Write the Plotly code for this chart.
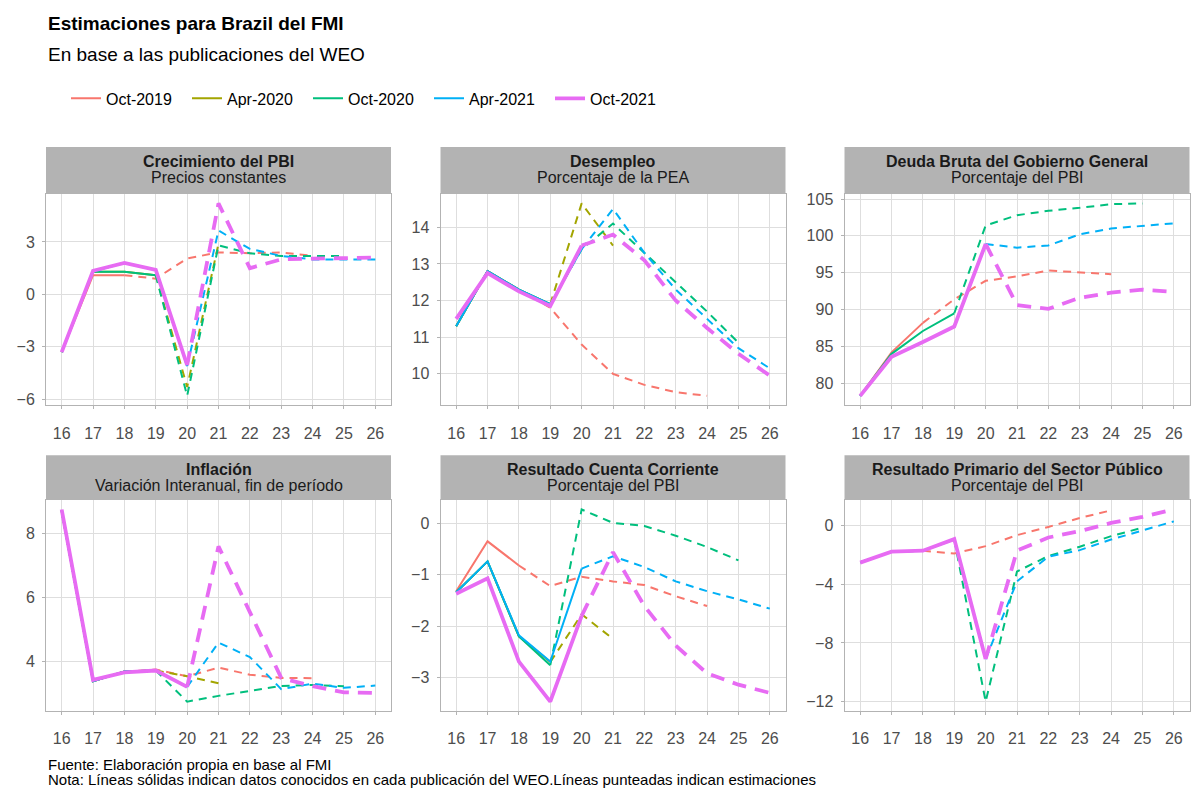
import plotly.graph_objects as go

# ---------------- data ----------------
years = [16, 17, 18, 19, 20, 21, 22, 23, 24, 25, 26]
tick_labels = ["16", "17", "18", "19", "20", "21", "22", "23", "24", "25", "26"]

vintages = ["Oct-2019", "Apr-2020", "Oct-2020", "Apr-2021", "Oct-2021"]
colors = ["#F8766D", "#A3A500", "#00BF7D", "#00B0F6", "#E76BF3"]
last_actual = [18, 19, 19, 20, 20]   # last year with known data in each WEO

# Crecimiento del PBI
gdp_oct19 = [-3.3, 1.1, 1.1, 0.9, 2.05, 2.4, 2.35, 2.4, 2.2, None, None]
gdp_apr20 = [-3.3, 1.3, 1.3, 1.1, -5.3, 2.9, None, None, None, None, None]
gdp_oct20 = [-3.3, 1.3, 1.3, 1.1, -5.8, 2.8, 2.35, 2.2, 2.2, 2.2, None]
gdp_apr21 = [-3.3, 1.3, 1.8, 1.4, -4.1, 3.65, 2.6, 2.2, 2.0, 2.0, 2.0]
gdp_oct21 = [-3.3, 1.35, 1.8, 1.4, -4.05, 5.2, 1.5, 2.0, 2.05, 2.1, 2.1]

# Desempleo
une_oct19 = [11.3, 12.8, 12.3, 11.8, 10.8, 10.0, 9.7, 9.5, 9.4, None, None]
une_apr20 = [11.3, 12.8, 12.3, 11.9, 14.65, 13.5, None, None, None, None, None]
une_oct20 = [11.3, 12.8, 12.3, 11.9, 13.4, 14.1, 13.3, 12.5, 11.7, 10.85, None]
une_apr21 = [11.3, 12.8, 12.3, 11.9, 13.4, 14.5, 13.3, 12.3, 11.5, 10.7, 10.15]
une_oct21 = [11.5, 12.75, 12.25, 11.85, 13.5, 13.8, 13.1, 12.0, 11.25, 10.55, 9.95]

# Deuda Bruta del Gobierno General
debt_oct19 = [78.3, 84.2, 88.2, 91.4, 93.9, 94.5, 95.3, 95.0, 94.8, None, None]
debt_apr20 = [None] * 11
debt_oct20 = [78.3, 84.0, 87.1, 89.5, 101.4, 102.8, 103.4, 103.8, 104.3, 104.4, None]
debt_apr21 = [78.3, 83.6, 85.6, 87.7, 98.9, 98.4, 98.7, 100.2, 101.0, 101.4, 101.7]
debt_oct21 = [78.3, 83.6, 85.6, 87.7, 98.9, 90.6, 90.1, 91.6, 92.3, 92.7, 92.4]

# Inflacion
inf_oct19 = [8.7, 3.4, 3.7, 3.76, 3.55, 3.82, 3.6, 3.5, 3.49, None, None]
inf_apr20 = [8.7, 3.4, 3.7, 3.73, 3.55, 3.33, None, None, None, None, None]
inf_oct20 = [8.7, 3.4, 3.7, 3.73, 2.76, 2.94, 3.1, 3.25, 3.28, 3.24, None]
inf_apr21 = [8.7, 3.4, 3.7, 3.73, 3.22, 4.6, 4.15, 3.15, 3.32, 3.19, 3.26]
inf_oct21 = [8.75, 3.44, 3.67, 3.73, 3.22, 7.6, 5.55, 3.5, 3.24, 3.05, 3.03]

# Resultado Cuenta Corriente
ca_oct19 = [-1.32, -0.35, -0.82, -1.22, -1.04, -1.13, -1.2, -1.42, -1.61, None, None]
ca_apr20 = [-1.34, -0.74, -2.2, -2.7, -1.77, -2.25, None, None, None, None, None]
ca_oct20 = [-1.34, -0.74, -2.2, -2.76, 0.27, 0.01, -0.05, -0.24, -0.46, -0.72, None]
ca_apr21 = [-1.34, -0.74, -2.18, -2.69, -0.88, -0.64, -0.85, -1.13, -1.32, -1.48, -1.66]
ca_oct21 = [-1.37, -1.07, -2.69, -3.47, -1.8, -0.56, -1.61, -2.38, -2.92, -3.14, -3.3]

# Resultado Primario del Sector Publico
pb_oct19 = [-2.5, -1.78, -1.71, -1.9, -1.4, -0.65, -0.09, 0.52, 1.04, None, None]
pb_apr20 = [None] * 11
pb_oct20 = [-2.5, -1.78, -1.71, -0.95, -12.0, -3.13, -2.07, -1.44, -0.72, -0.14, None]
pb_apr21 = [-2.5, -1.78, -1.71, -0.92, -9.1, -3.8, -2.12, -1.67, -0.95, -0.32, 0.29]
pb_oct21 = [-2.52, -1.78, -1.71, -0.92, -9.1, -1.7, -0.81, -0.38, 0.18, 0.59, 1.1]

panel_titles = ["Crecimiento del PBI", "Desempleo", "Deuda Bruta del Gobierno General",
                "Inflación", "Resultado Cuenta Corriente", "Resultado Primario del Sector Público"]
panel_subtitles = ["Precios constantes", "Porcentaje de la PEA", "Porcentaje del PBI",
                   "Variación Interanual, fin de período", "Porcentaje del PBI", "Porcentaje del PBI"]
panel_yticks = [[-6, -3, 0, 3], [10, 11, 12, 13, 14], [80, 85, 90, 95, 100, 105],
                [4, 6, 8], [-3, -2, -1, 0], [-12, -8, -4, 0]]

panel_series = [
    [gdp_oct19, gdp_apr20, gdp_oct20, gdp_apr21, gdp_oct21],
    [une_oct19, une_apr20, une_oct20, une_apr21, une_oct21],
    [debt_oct19, debt_apr20, debt_oct20, debt_apr21, debt_oct21],
    [inf_oct19, inf_apr20, inf_oct20, inf_apr21, inf_oct21],
    [ca_oct19, ca_apr20, ca_oct20, ca_apr21, ca_oct21],
    [pb_oct19, pb_apr20, pb_oct20, pb_apr21, pb_oct21],
]

# ---------------- layout geometry (pixels) ----------------
W, H = 1200, 800
col_px = [(46, 391), (440.5, 785.5), (844.5, 1189.5)]
row_px = [(192, 405), (500, 712.7)]       # plot area top/bottom
strip_px = [(145, 192), (455, 500)]       # strip top/bottom

FONT = "Liberation Sans, Arial, sans-serif"
GREY_TXT = "#4D4D4D"

def px_x(x):
    return x / W

def px_y(y):
    return 1 - y / H

fig = go.Figure()
shapes = []
annotations = []

for p in range(6):
    r, c = divmod(p, 3)
    ax_id = "" if p == 0 else str(p + 1)
    xa, ya = "x" + ax_id, "y" + ax_id
    series = panel_series[p]

    allv = [v for s in series for v in s if v is not None]
    lo, hi = min(allv), max(allv)
    span = hi - lo
    yrange = [lo - 0.05 * span, hi + 0.05 * span]

    for i, s in enumerate(series):
        if all(v is None for v in s):
            continue
        width = 3.8 if i == 4 else 2.0
        dash = "14px,9px" if i == 4 else "8px,6px"
        la = last_actual[i]
        xs_a = [yr for yr, v in zip(years, s) if v is not None and yr <= la]
        ys_a = [v for yr, v in zip(years, s) if v is not None and yr <= la]
        xs_e = [yr for yr, v in zip(years, s) if v is not None and yr >= la]
        ys_e = [v for yr, v in zip(years, s) if v is not None and yr >= la]
        fig.add_trace(go.Scatter(
            x=xs_a, y=ys_a, mode="lines", xaxis=xa, yaxis=ya,
            line=dict(color=colors[i], width=width),
            name=vintages[i], legendgroup=vintages[i], showlegend=(p == 0),
            hoverinfo="skip"))
        fig.add_trace(go.Scatter(
            x=xs_e, y=ys_e, mode="lines", xaxis=xa, yaxis=ya,
            line=dict(color=colors[i], width=width, dash=dash),
            name=vintages[i], legendgroup=vintages[i], showlegend=False,
            hoverinfo="skip"))

    x0, x1 = col_px[c]
    y0, y1 = row_px[r]
    common = dict(showgrid=True, gridcolor="#DEDEDE", gridwidth=1, zeroline=False,
                  showline=True, mirror=True, linecolor="#B3B3B3", linewidth=1,
                  ticks="outside", ticklen=3, tickcolor="#B3B3B3",
                  tickfont=dict(family=FONT, size=16, color=GREY_TXT))
    fig.layout["xaxis" + ax_id] = dict(
        domain=[px_x(x0), px_x(x1)], anchor=ya, range=[15.5, 26.5],
        tickvals=years, ticktext=tick_labels, ticklabelstandoff=10, **common)
    fig.layout["yaxis" + ax_id] = dict(
        domain=[px_y(y1), px_y(y0)], anchor=xa, range=yrange,
        tickvals=panel_yticks[p], ticklabelstandoff=4, **common)

    st0, st1 = strip_px[r]
    shapes.append(dict(type="rect", xref="paper", yref="paper",
                       x0=px_x(x0), x1=px_x(x1), y0=px_y(st1), y1=px_y(st0),
                       fillcolor="#B3B3B3", line=dict(width=0), layer="above"))
    cx = px_x((x0 + x1) / 2)
    annotations.append(dict(text="<b>" + panel_titles[p] + "</b>", xref="paper", yref="paper",
                            x=cx, y=px_y(st0 + 14.5), xanchor="center", yanchor="middle",
                            showarrow=False, font=dict(family=FONT, size=16, color="#1A1A1A")))
    annotations.append(dict(text=panel_subtitles[p], xref="paper", yref="paper",
                            x=cx, y=px_y(st0 + 30.5), xanchor="center", yanchor="middle",
                            showarrow=False, font=dict(family=FONT, size=16, color="#1A1A1A")))

# titles and footer
annotations.append(dict(text="<b>Estimaciones para Brazil del FMI</b>", xref="paper", yref="paper",
                        x=px_x(46), y=px_y(21), xanchor="left", yanchor="middle", showarrow=False,
                        font=dict(family=FONT, size=19, color="#000000")))
annotations.append(dict(text="En base a las publicaciones del WEO", xref="paper", yref="paper",
                        x=px_x(46), y=px_y(52), xanchor="left", yanchor="middle", showarrow=False,
                        font=dict(family=FONT, size=19, color="#000000")))
annotations.append(dict(text="Fuente: Elaboración propia en base al FMI", xref="paper", yref="paper",
                        x=px_x(46), y=px_y(766), xanchor="left", yanchor="middle", showarrow=False,
                        font=dict(family=FONT, size=15, color="#000000")))
annotations.append(dict(text="Nota: Líneas sólidas indican datos conocidos en cada publicación del WEO.Líneas punteadas indican estimaciones",
                        xref="paper", yref="paper",
                        x=px_x(46), y=px_y(781), xanchor="left", yanchor="middle", showarrow=False,
                        font=dict(family=FONT, size=15, color="#000000")))

fig.update_layout(
    width=W, height=H,
    margin=dict(l=0, r=0, t=0, b=0),
    paper_bgcolor="white", plot_bgcolor="white",
    font=dict(family=FONT, color="#000000"),
    shapes=shapes, annotations=annotations,
    legend=dict(orientation="h", x=px_x(66), y=px_y(96), xanchor="left", yanchor="middle",
                font=dict(family=FONT, size=16, color="#000000"),
                bgcolor="rgba(0,0,0,0)", itemwidth=30, tracegroupgap=0,
                entrywidth=76, entrywidthmode="pixels"),
    showlegend=True,
)

fig.write_html("out.html")
